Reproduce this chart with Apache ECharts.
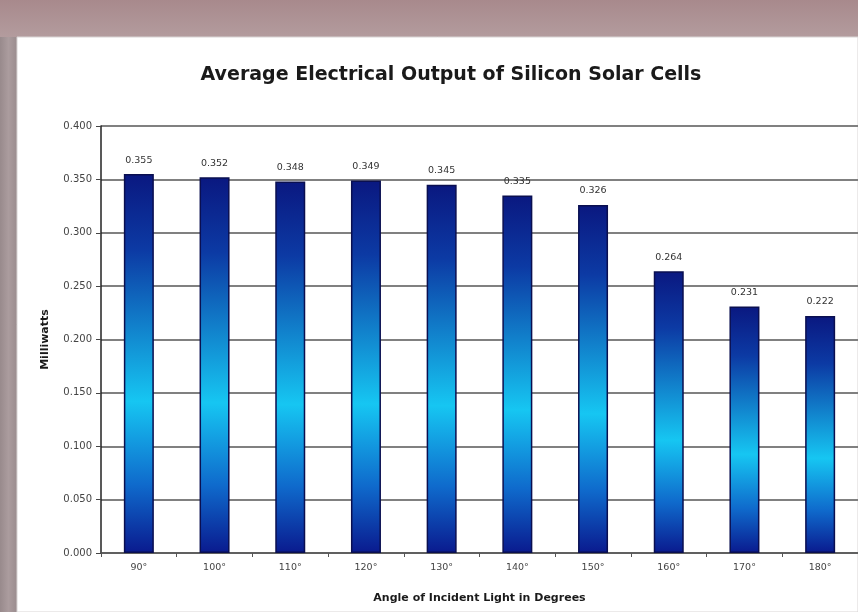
<!DOCTYPE html>
<html><head><meta charset="utf-8">
<script src="https://cdn.jsdelivr.net/npm/echarts@6/dist/echarts.min.js"></script>
<style>
html,body{margin:0;padding:0;width:858px;height:612px;overflow:hidden;background:#a99294;}
#c{width:858px;height:612px;}
</style></head><body><div id="c"></div>
<script>
const categories = ['90°','100°','110°','120°','130°','140°','150°','160°','170°','180°'];
const milliwatts = [0.355, 0.352, 0.348, 0.349, 0.345, 0.335, 0.326, 0.264, 0.231, 0.222];
const valueLabels = ['0.355','0.352','0.348','0.349','0.345','0.335','0.326','0.264','0.231','0.222'];
const titleText = 'Average Electrical Output of Silicon Solar Cells';
const yTitle = 'Milliwatts';
const xTitle = 'Angle of Incident Light in Degrees';

const F = 'DejaVu Sans, Liberation Sans, sans-serif';
const chart = echarts.init(document.getElementById('c'), null, {renderer:'canvas'});
chart.setOption({
  backgroundColor: 'transparent',
  animation: false,
  graphic: [
    {type:'rect', z:-10, shape:{x:0,y:0,width:858,height:37}, style:{fill:new echarts.graphic.LinearGradient(0,0,0,1,[{offset:0,color:'#a8898c'},{offset:1,color:'#b39c9e'}])}},
    {type:'rect', z:-10, shape:{x:0,y:37,width:17,height:575}, style:{fill:new echarts.graphic.LinearGradient(0,0,1,0,[{offset:0,color:'#988a8c'},{offset:0.5,color:'#ab9c9e'},{offset:1,color:'#9a8c8e'}])}},
    {type:'rect', z:-9, shape:{x:17,y:37,width:841,height:575}, style:{fill:'#ffffff', stroke:'#d8d4d4', lineWidth:1}}
  ],
  title: {
    text: titleText, left: 446, top: 61, textAlign: 'center',
    textStyle: {fontFamily:F, fontSize:19, fontWeight:'bold', color:'#1a1a1a'}
  },
  grid: {left:101, right:-13, top:126, bottom:59, containLabel:false},
  xAxis: {
    type:'category', data: categories,
    name: xTitle, nameLocation:'middle', nameGap:40,
    nameTextStyle:{fontFamily:F, fontSize:11, fontWeight:'bold', color:'#1a1a1a'},
    axisLine:{show:true, lineStyle:{color:'#555', width:1.5}},
    axisTick:{show:true, alignWithLabel:false, length:4, lineStyle:{color:'#555'}},
    axisLabel:{fontFamily:F, fontSize:9.5, color:'#444', margin:10}
  },
  yAxis: {
    type:'value', min:0, max:0.4, interval:0.05,
    name: yTitle, nameLocation:'middle', nameGap:50, nameRotate:90,
    nameTextStyle:{fontFamily:F, fontSize:11, fontWeight:'bold', color:'#1a1a1a'},
    axisLine:{show:true, lineStyle:{color:'#222', width:1.5}},
    axisTick:{show:true, length:5, inside:false, lineStyle:{color:'#444'}},
    axisLabel:{fontFamily:F, fontSize:10, color:'#444', margin:9, formatter:v=>v.toFixed(3)},
    splitLine:{show:true, lineStyle:{color:'#808080', width:2}}
  },
  series: [{
    type:'bar', data: milliwatts, barWidth:30,
    itemStyle:{
      color: new echarts.graphic.LinearGradient(0,0,0,1,[
        {offset:0, color:'#0a1880'},
        {offset:0.2, color:'#0c3aa4'},
        {offset:0.6, color:'#16c6f2'},
        {offset:0.82, color:'#0f6acc'},
        {offset:1, color:'#0a1a8e'}
      ]),
      borderColor:'#0a0f50', borderWidth:1.5
    },
    label:{show:true, position:'top', distance:9, fontFamily:F, fontSize:9.5, color:'#333',
      formatter: p => valueLabels[p.dataIndex]}
  }]
});
</script></body></html>
